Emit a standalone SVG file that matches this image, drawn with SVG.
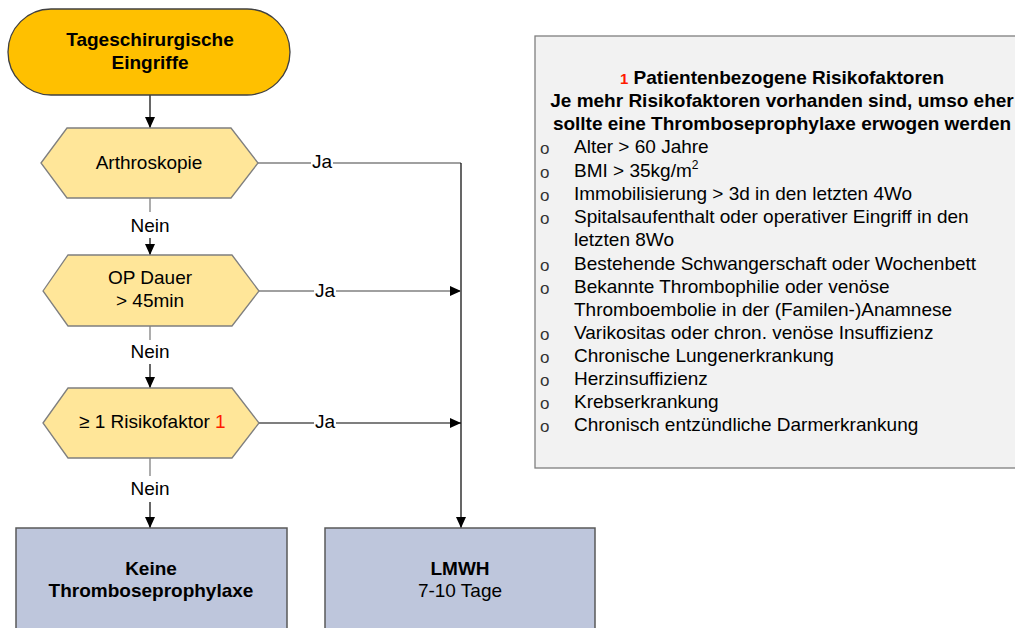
<svg xmlns="http://www.w3.org/2000/svg" width="1015" height="628" viewBox="0 0 1015 628">
<style>
text{font-family:"Liberation Sans",Arial,sans-serif;fill:#000}
.t{font-size:19px}
.b{font-weight:bold}
.c{text-anchor:middle}
.red{fill:#ff1a00}
.hex{fill:#ffe699;stroke:#7f7f7f;stroke-width:1.3}
.box{fill:#bec6dc;stroke:#595959;stroke-width:1.5}
.g{stroke:#808080;stroke-width:1.3;fill:none}
.k{stroke:#000;stroke-width:1.2;fill:none}
.lbl{fill:#fff}
.bul text{font-size:17px;fill:#333}
</style>
<defs>
<marker id="ah" markerWidth="11" markerHeight="10" refX="11" refY="5" orient="auto" markerUnits="userSpaceOnUse">
<path d="M0,0 L11,5 L0,10 Z" fill="#000"/>
</marker>
</defs>
<rect width="1015" height="628" fill="#fff"/>
<g id="connectors">
<line class="k" x1="150" y1="95" x2="150" y2="128" marker-end="url(#ah)"/>
<line class="g" x1="150" y1="198" x2="150" y2="212"/>
<line class="k" x1="150" y1="238" x2="150" y2="255" marker-end="url(#ah)"/>
<line class="g" x1="150" y1="326" x2="150" y2="340"/>
<line class="k" x1="150" y1="364" x2="150" y2="388" marker-end="url(#ah)"/>
<line class="g" x1="150" y1="458" x2="150" y2="476"/>
<line class="k" x1="150" y1="502" x2="150" y2="528" marker-end="url(#ah)"/>
<polyline class="g" points="258,163 461,163"/>
<line class="k" x1="461" y1="163" x2="461" y2="528" marker-end="url(#ah)"/>
<line class="g" x1="259" y1="291" x2="461" y2="291" marker-end="url(#ah)"/>
<line class="k" x1="259" y1="423" x2="461" y2="423" marker-end="url(#ah)"/>
<rect class="lbl" x="311" y="152" width="22" height="20"/>
<rect class="lbl" x="314" y="280" width="22" height="20"/>
<rect class="lbl" x="314" y="412" width="22" height="20"/>
<text class="t c" x="322" y="168">Ja</text>
<text class="t c" x="325" y="297">Ja</text>
<text class="t c" x="325" y="428">Ja</text>
<text class="t c" x="150" y="232">Nein</text>
<text class="t c" x="150" y="358">Nein</text>
<text class="t c" x="150" y="495">Nein</text>
</g>
<g id="start">
<rect x="8" y="9" width="282" height="86" rx="43" ry="43" fill="#ffc000" stroke="#404040" stroke-width="1.3"/>
<text class="t b c" x="150" y="46">Tageschirurgische</text>
<text class="t b c" x="150" y="69">Eingriffe</text>
</g>
<g id="arthroskopie">
<polygon class="hex" points="41,163 67,128 231,128 258,163 231,198 67,198"/>
<text class="t c" x="149" y="169">Arthroskopie</text>
</g>
<g id="opdauer">
<polygon class="hex" points="43,291 68,255 232,255 259,291 232,326 68,326"/>
<text class="t c" x="150" y="284">OP Dauer</text>
<text class="t c" x="150" y="307">&gt; 45min</text>
</g>
<g id="risikofaktor">
<polygon class="hex" points="43,423 68,388 232,388 259,423 232,458 68,458"/>
<text class="t" x="79" y="428">≥ 1 Risikofaktor <tspan class="red">1</tspan></text>
</g>
<g id="keine">
<rect class="box" x="16" y="528" width="271" height="110"/>
<text class="t b c" x="151" y="575">Keine</text>
<text class="t b c" x="151" y="597">Thromboseprophylaxe</text>
</g>
<g id="lmwh">
<rect class="box" x="325" y="528" width="270" height="110"/>
<text class="t b c" x="460" y="575">LMWH</text>
<text class="t c" x="460" y="597">7-10 Tage</text>
</g>
<g id="risikofaktoren">
<rect x="535" y="36" width="500" height="432" fill="#f2f2f2" stroke="#7f7f7f" stroke-width="1.3"/>
<text class="t b c" x="782" y="84"><tspan class="red" font-size="15">1</tspan> Patientenbezogene Risikofaktoren</text>
<text class="t b c" x="782" y="107">Je mehr Risikofaktoren vorhanden sind, umso eher</text>
<text class="t b c" x="782" y="130">sollte eine Thromboseprophylaxe erwogen werden</text>
<g class="bul">
<text x="540" y="154">o</text>
<text x="540" y="178">o</text>
<text x="540" y="201">o</text>
<text x="540" y="224">o</text>
<text x="540" y="271">o</text>
<text x="540" y="294">o</text>
<text x="540" y="340">o</text>
<text x="540" y="363">o</text>
<text x="540" y="386">o</text>
<text x="540" y="409">o</text>
<text x="540" y="432">o</text>
</g>
<text class="t" x="574" y="153">Alter &gt; 60 Jahre</text>
<text class="t" x="574" y="177">BMI &gt; 35kg/m<tspan font-size="12" dy="-8">2</tspan></text>
<text class="t" x="574" y="200">Immobilisierung &gt; 3d in den letzten 4Wo</text>
<text class="t" x="574" y="223">Spitalsaufenthalt oder operativer Eingriff in den</text>
<text class="t" x="574" y="246">letzten 8Wo</text>
<text class="t" x="574" y="270">Bestehende Schwangerschaft oder Wochenbett</text>
<text class="t" x="574" y="293">Bekannte Thrombophilie oder venöse</text>
<text class="t" x="574" y="316">Thromboembolie in der (Familen-)Anamnese</text>
<text class="t" x="574" y="339">Varikositas oder chron. venöse Insuffizienz</text>
<text class="t" x="574" y="362">Chronische Lungenerkrankung</text>
<text class="t" x="574" y="385">Herzinsuffizienz</text>
<text class="t" x="574" y="408">Krebserkrankung</text>
<text class="t" x="574" y="431">Chronisch entzündliche Darmerkrankung</text>
</g>
</svg>
